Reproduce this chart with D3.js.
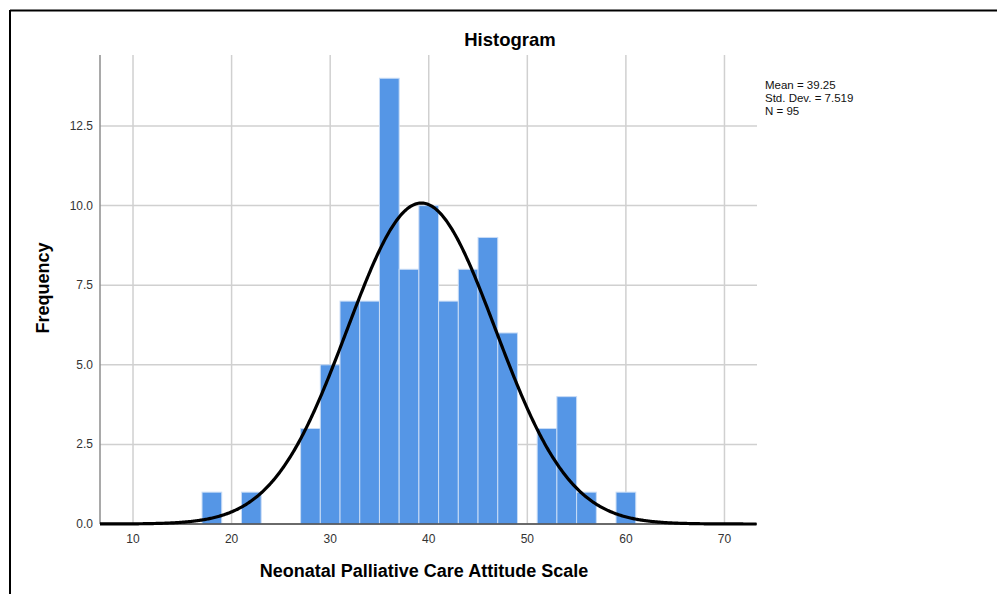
<!DOCTYPE html>
<html><head><meta charset="utf-8">
<script src="https://cdn.jsdelivr.net/npm/d3@7"></script>
<style>body{margin:0;background:#fff;} svg{display:block;}</style>
</head><body>
<svg id="c" width="998" height="594"></svg>
<script>
const binStarts = [17, 21, 27, 29, 31, 33, 35, 37, 39, 41, 43, 45, 47, 51, 53, 55, 59];
const binCounts = [1, 1, 3, 5, 7, 7, 14, 8, 10, 7, 8, 9, 6, 3, 4, 1, 1];
const binWidth = 2;
const xTicks = [10, 20, 30, 40, 50, 60, 70];
const yTicks = [0, 2.5, 5, 7.5, 10, 12.5];
const statMean = 39.25, statSD = 7.519, statN = 95;
const statLines = ["Mean = 39.25", "Std. Dev. = 7.519", "N = 95"];

const svg = d3.select("#c");
const L = 100, R = 757, T = 55, B = 524;
const x = d3.scaleLinear().domain([6.65, 73.3]).range([L, R]);
const y = d3.scaleLinear().domain([0, 14.73]).range([B, T]);

// frame
svg.append("line").attr("x1",10).attr("x2",997).attr("y1",10.5).attr("y2",10.5).attr("stroke","#000").attr("stroke-width",2);
svg.append("line").attr("x1",10).attr("x2",10).attr("y1",10).attr("y2",594).attr("stroke","#000").attr("stroke-width",2);

// gridlines
const g = svg.append("g");
g.selectAll(".vg").data(xTicks).join("line")
  .attr("x1",d=>x(d)).attr("x2",d=>x(d)).attr("y1",T).attr("y2",B)
  .attr("stroke","#d0d0d0").attr("stroke-width",1.5);
g.selectAll(".hg").data(yTicks).join("line")
  .attr("x1",L).attr("x2",R).attr("y1",d=>y(d)).attr("y2",d=>y(d))
  .attr("stroke","#d0d0d0").attr("stroke-width",1.5);

// bars
svg.append("g").selectAll("rect").data(binStarts).join("rect")
  .attr("x",(d)=>x(d))
  .attr("width",(d)=>x(d+binWidth)-x(d))
  .attr("y",(d,i)=>y(binCounts[i]))
  .attr("height",(d,i)=>y(0)-y(binCounts[i]))
  .attr("fill","#5596e6").attr("stroke","#c8dcf6").attr("stroke-width",1);

// axes lines
svg.append("line").attr("x1",L).attr("x2",L).attr("y1",T).attr("y2",B).attr("stroke","#8c8c8c").attr("stroke-width",1.5);
svg.append("line").attr("x1",L).attr("x2",R).attr("y1",B).attr("y2",B).attr("stroke","#444").attr("stroke-width",1.5);

// normal curve
const pts = d3.range(6.65, 73.31, 0.1);
const pdf = v => statN*binWidth/(statSD*Math.sqrt(2*Math.PI))*Math.exp(-0.5*((v-statMean)/statSD)**2);
svg.append("path").datum(pts)
  .attr("d", d3.line().x(d=>x(d)).y(d=>y(pdf(d))))
  .attr("fill","none").attr("stroke","#000").attr("stroke-width",3.2);

// tick labels
const tf = "Arial, 'Liberation Sans', sans-serif";
svg.append("g").selectAll("text").data(xTicks).join("text")
  .attr("x",d=>x(d)).attr("y",542.5).attr("text-anchor","middle")
  .attr("font-family",tf).attr("font-size",12).attr("fill","#333")
  .text(d=>d);
svg.append("g").selectAll("text").data(yTicks).join("text")
  .attr("x",93).attr("y",d=>y(d)+4).attr("text-anchor","end")
  .attr("font-family",tf).attr("font-size",12).attr("fill","#333")
  .text(d=>d.toFixed(1));

// titles
svg.append("text").attr("x",510).attr("y",46).attr("text-anchor","middle")
  .attr("font-family",tf).attr("font-size",18.5).attr("font-weight","bold").text("Histogram");
svg.append("text").attr("x",424).attr("y",577).attr("text-anchor","middle")
  .attr("font-family",tf).attr("font-size",18).attr("font-weight","bold").text("Neonatal Palliative Care Attitude Scale");
svg.append("text").attr("transform","translate(49,288) rotate(-90)").attr("text-anchor","middle")
  .attr("font-family",tf).attr("font-size",18).attr("font-weight","bold").text("Frequency");

// stats
svg.append("g").selectAll("text").data(statLines).join("text")
  .attr("x",765).attr("y",(d,i)=>89+i*13)
  .attr("font-family",tf).attr("font-size",11.5).attr("fill","#111")
  .text(d=>d);
</script>
</body></html>
